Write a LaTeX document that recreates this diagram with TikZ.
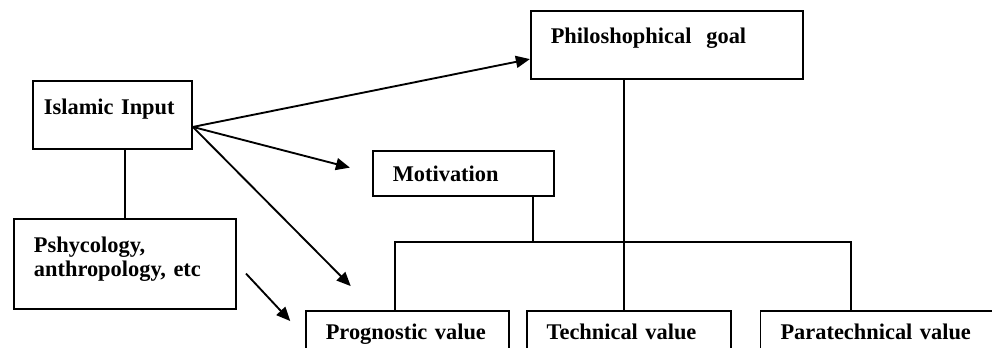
\documentclass[tikz,border=0pt]{standalone}
\usepackage{fontspec}
\setmainfont{Liberation Serif}
\usetikzlibrary{positioning,arrows.meta}

\tikzset{
  box/.style={draw, anchor=north west, align=left,
    inner xsep=15pt, inner ysep=0pt,
    font=\bfseries\fontsize{16.8pt}{18pt}\selectfont},
}

\begin{document}
\begin{tikzpicture}[>={Triangle[length=10.5pt,width=9pt]}, line width=1.4pt]
  \useasboundingbox (-24pt,60pt) rectangle (720pt,-200.25pt);
  \clip (-24pt,60pt) rectangle (720pt,-200.25pt);
  % boxes
  \node[box, inner xsep=8.25pt, text width=102.75pt, text height=25.5pt, text depth=25.5pt] (islam) at (0,0) {Islamic Input};
  \node[box, right=252.75pt of islam.north east, anchor=south west, text width=174pt, text height=24pt, text depth=27pt] (phil) {Philoshophical~ goal};
  \node[box, right=134.25pt of islam.south east, anchor=north west, text width=105.75pt, text height=23.25pt, text depth=10.5pt] (motiv) {Motivation};
  \node[box, below right=51pt and -14.25pt of islam.south west, text width=136.5pt, text height=25.5pt, text depth=42pt] (psy) {Pshycology,\\ anthropology, etc};
  \node[box, right=51pt of psy.south east, anchor=north west, text width=122.25pt, text height=21.75pt, text depth=17.25pt] (prog) {Prognostic value};
  \node[box, right=12pt of prog.north east, anchor=north west, text width=123pt, text height=21.75pt, text depth=17.25pt] (tech) {Technical value};
  \node[box, right=21pt of tech.north east, anchor=north west, text width=165pt, text height=21.75pt, text depth=17.25pt] (para) {Paratechnical value};
  % links
  \coordinate (fan) at ([yshift=-9pt]islam.east);
  \draw (psy.north) -- (psy.north |- islam.south);
  \draw[->] (fan) -- ([yshift=-10.5pt]phil.west);
  \draw[->, shorten >=17pt] (fan) -- (motiv.west);
  \draw[->, shorten >=25pt] (fan) -- ([xshift=52pt]prog.north west);
  \draw[->, shorten <=10pt, shorten >=16pt] (psy.east) -- (prog.west);
  % tree
  \coordinate (hub) at ([xshift=-16.5pt,yshift=-33.75pt]motiv.south east);
  \draw (hub) -- (hub |- motiv.south);
  \draw ([xshift=67.5pt]prog.north west) |- (hub) -| ([xshift=68.25pt]para.north west);
  \draw ([xshift=-3.75pt]tech.north) -- ([xshift=-3.75pt]tech.north |- phil.south);
\end{tikzpicture}
\end{document}
